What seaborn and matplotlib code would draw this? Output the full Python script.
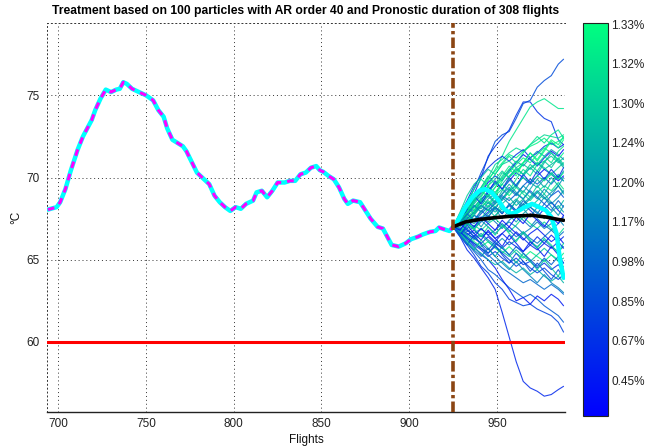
import numpy as np
import pandas as pd
import matplotlib
matplotlib.use("Agg")
import matplotlib.pyplot as plt
import seaborn as sns

# ---------------- data ----------------
hist_flights = [694, 699, 701, 704, 707, 711, 714, 716, 719, 721, 724, 727, 730, 733, 735, 737, 739,
                742, 746, 750, 754, 757, 760, 762, 765, 768, 771, 773, 776, 779, 783, 786, 789, 792,
                795, 798, 801, 804, 807, 811, 813, 816, 819, 822, 825, 829, 832, 835, 838, 841, 844,
                847, 849, 851, 854, 857, 860, 863, 865, 868, 872, 875, 878, 882, 885, 888, 890, 894,
                898, 901, 905, 908, 912, 915, 917, 920, 923, 925]
hist_temps = [68.05, 68.2, 68.5, 69.3, 70.4, 71.7, 72.5, 72.9, 73.5, 74.1, 74.8, 75.35, 75.2, 75.35,
              75.4, 75.8, 75.7, 75.4, 75.2, 75.0, 74.7, 74.1, 73.7, 73.0, 72.3, 72.1, 71.9, 71.6,
              70.95, 70.3, 69.9, 69.6, 68.9, 68.5, 68.2, 67.97, 68.2, 68.1, 68.4, 68.6, 69.1, 69.2,
              68.8, 69.2, 69.7, 69.7, 69.8, 69.8, 70.2, 70.3, 70.6, 70.7, 70.45, 70.35, 70.1, 69.9,
              69.4, 68.7, 68.4, 68.6, 68.5, 68.0, 67.5, 67.0, 66.9, 66.3, 65.9, 65.8, 66.0, 66.25,
              66.4, 66.55, 66.7, 66.75, 66.96, 66.85, 66.75, 67.0]

true_flights = [925, 926, 929, 932, 936, 940, 943, 947, 951, 954, 958, 961, 966, 970, 974, 978, 981,
                984, 986, 988]
true_temps = [67.0, 67.1, 67.6, 68.2, 68.8, 69.2, 69.3, 69.1, 68.6, 68.1, 67.8, 67.9, 68.2, 68.4,
              68.2, 68.0, 67.6, 66.6, 65.0, 63.9]

mean_flights = [925, 932, 940, 948, 958, 970, 978, 985, 988]
mean_temps = [67.0, 67.3, 67.45, 67.55, 67.65, 67.7, 67.6, 67.45, 67.4]

threshold = 60.0
forecast_start = 925

particle_flights = [925, 929, 933, 937, 941, 945, 949, 953, 957, 961, 965, 969, 973, 977, 981, 985, 988]
particle_paths = [
    [67.0, 67.6, 68.4, 69.3, 70.3, 71.2, 72.2, 72.6, 72.8, 73.6, 74.5, 74.7, 75.5, 75.9, 76.2, 76.9, 77.2],
    [67.0, 67.5, 68.2, 69.0, 70.0, 71.3, 71.9, 72.4, 72.9, 73.8, 74.6, 74.6, 74.0, 73.6, 73.4, 72.3, 72.0],
    [67.0, 67.4, 67.9, 68.5, 69.2, 69.8, 70.5, 71.3, 72.2, 72.9, 73.6, 74.3, 74.6, 74.8, 74.5, 74.2, 74.2],
    [67.0, 66.4, 65.6, 65.1, 64.5, 63.9, 63.2, 61.8, 60.3, 58.8, 57.6, 57.2, 57.0, 56.7, 56.8, 57.1, 57.3],
    [67.0, 66.5, 65.9, 65.3, 64.6, 64.2, 63.6, 63.2, 62.6, 62.4, 62.2, 62.3, 62.0, 61.8, 61.6, 61.2, 60.6],
    [67.0, 66.6, 66.0, 65.5, 65.0, 64.4, 64.1, 63.7, 63.3, 63.0, 62.7, 62.9, 62.6, 62.2, 61.9, 61.6, 61.2],
    [67.0, 66.7, 66.2, 65.8, 65.3, 65.0, 64.5, 63.8, 63.2, 62.5, 62.7, 62.3, 62.8, 62.5, 62.9, 62.6, 62.2],
    [67.0, 67.5, 68.0, 68.7, 69.4, 70.0, 70.8, 71.1, 71.5, 71.8, 71.6, 72.0, 72.3, 72.6, 72.5, 72.4, 72.6],
    [67.0, 67.6, 68.3, 68.8, 69.3, 69.9, 70.4, 70.9, 71.4, 71.2, 71.6, 71.9, 72.1, 72.4, 72.0, 72.2, 72.4],
    [67.0, 67.8, 68.6, 69.5, 70.1, 70.6, 71.0, 71.3, 71.0, 71.4, 71.7, 71.2, 71.5, 71.9, 72.1, 71.8, 72.0],
    [67.0, 67.9, 68.9, 69.6, 70.0, 70.5, 70.2, 70.8, 71.0, 70.6, 70.9, 71.2, 70.8, 71.0, 71.3, 70.9, 71.2],
    [67.0, 67.3, 67.8, 68.4, 68.9, 69.4, 69.1, 69.6, 70.1, 70.5, 70.2, 70.6, 70.9, 70.5, 70.8, 71.1, 70.7],
    [67.0, 67.4, 68.1, 68.0, 68.6, 69.2, 69.7, 69.3, 69.8, 70.3, 70.0, 69.6, 70.1, 70.5, 70.2, 69.8, 70.1],
    [67.0, 67.2, 67.7, 68.3, 68.1, 68.7, 69.0, 68.6, 69.2, 69.5, 69.1, 69.7, 69.4, 69.9, 70.3, 69.9, 70.4],
    [67.0, 67.3, 67.9, 68.2, 68.7, 68.4, 68.9, 69.3, 68.9, 69.4, 69.0, 68.6, 69.1, 69.5, 69.2, 69.7, 69.3],
    [67.0, 67.1, 67.5, 67.9, 68.3, 68.0, 68.5, 68.9, 68.6, 69.0, 68.7, 69.2, 68.8, 68.4, 68.9, 69.2, 68.8],
    [67.0, 67.2, 67.6, 67.4, 67.9, 68.3, 67.9, 68.4, 68.8, 68.3, 68.7, 68.2, 68.6, 69.0, 68.5, 68.1, 68.6],
    [67.0, 67.1, 67.3, 67.7, 67.5, 67.9, 68.2, 67.8, 68.3, 67.9, 68.4, 68.0, 67.6, 68.1, 68.5, 68.0, 67.7],
    [67.0, 67.0, 67.4, 67.2, 67.6, 67.3, 67.7, 68.1, 67.7, 67.3, 67.8, 68.2, 67.9, 67.5, 67.9, 68.3, 67.9],
    [67.0, 66.9, 67.2, 66.9, 67.3, 67.7, 67.3, 66.9, 67.4, 67.8, 67.4, 67.0, 67.5, 67.1, 66.8, 67.2, 67.6],
    [67.0, 67.2, 66.9, 67.1, 66.8, 67.2, 67.5, 67.1, 66.7, 67.1, 67.6, 67.2, 66.9, 67.3, 66.9, 66.5, 66.9],
    [67.0, 66.8, 66.5, 66.8, 66.4, 66.7, 66.3, 66.6, 67.0, 66.6, 66.2, 66.6, 66.9, 66.5, 66.1, 66.4, 66.0],
    [67.0, 66.9, 66.6, 66.3, 66.6, 66.2, 65.9, 66.3, 65.9, 66.2, 66.6, 66.1, 65.8, 66.2, 65.8, 65.5, 65.8],
    [67.0, 66.8, 66.4, 66.1, 65.8, 66.1, 65.7, 65.4, 65.8, 65.4, 65.1, 65.5, 65.2, 64.9, 65.3, 65.0, 65.4],
    [67.0, 66.7, 66.3, 65.9, 65.6, 65.2, 65.5, 65.1, 64.8, 65.1, 64.7, 64.9, 64.5, 64.8, 64.4, 64.7, 64.3],
    [67.0, 66.6, 66.2, 65.7, 65.4, 65.0, 64.7, 64.9, 64.5, 64.2, 64.5, 64.1, 64.4, 64.0, 63.7, 64.0, 63.6],
    [67.0, 66.7, 66.4, 66.0, 65.7, 65.3, 64.9, 64.5, 64.2, 63.9, 63.6, 63.8, 63.5, 63.2, 63.5, 63.2, 62.9],
    [67.0, 67.5, 68.0, 68.6, 69.1, 69.7, 70.1, 69.8, 70.4, 70.9, 71.4, 71.1, 70.7, 71.2, 71.6, 71.3, 71.7],
    [67.0, 67.4, 67.9, 68.5, 69.0, 69.5, 69.9, 70.4, 70.0, 70.4, 70.8, 70.5, 70.9, 70.6, 70.2, 70.6, 70.9],
    [67.0, 67.3, 67.7, 68.2, 68.7, 69.1, 69.6, 70.0, 70.5, 71.0, 70.7, 71.2, 71.6, 71.3, 71.7, 71.4, 71.1],
    [67.0, 67.2, 67.6, 67.3, 67.8, 68.2, 68.6, 69.0, 69.4, 69.0, 69.5, 69.9, 69.6, 70.0, 69.6, 70.1, 69.8],
    [67.0, 67.1, 67.4, 67.8, 68.2, 68.6, 68.2, 68.7, 69.1, 69.6, 70.0, 69.7, 70.1, 69.8, 70.2, 69.9, 70.3],
    [67.0, 66.9, 66.7, 67.0, 67.4, 67.0, 66.6, 67.0, 67.3, 67.0, 66.6, 66.9, 67.3, 66.9, 67.2, 67.5, 67.1],
    [67.0, 66.8, 66.6, 66.3, 66.0, 66.4, 66.0, 65.7, 66.1, 65.8, 65.5, 65.9, 65.6, 66.0, 65.7, 66.1, 66.4],
    [67.0, 66.9, 66.5, 66.2, 66.5, 66.1, 65.8, 65.5, 65.2, 65.6, 65.2, 64.9, 65.3, 65.7, 65.3, 64.9, 65.1],
    [67.0, 66.7, 66.3, 66.0, 65.7, 65.4, 65.8, 65.4, 65.0, 64.6, 64.9, 64.5, 64.2, 64.5, 64.1, 63.8, 64.1],
    [67.0, 67.1, 67.3, 67.7, 67.4, 67.8, 68.2, 67.9, 68.3, 68.7, 68.3, 68.7, 69.1, 68.7, 69.1, 69.5, 69.1],
    [67.0, 67.3, 67.6, 68.0, 68.5, 68.9, 69.4, 69.9, 70.3, 70.8, 71.2, 70.9, 71.4, 71.8, 71.5, 71.1, 71.5],
    [67.0, 66.9, 66.8, 66.6, 66.9, 66.5, 66.8, 67.2, 66.8, 66.4, 66.7, 66.3, 66.0, 66.4, 66.8, 66.4, 66.7],
    [67.0, 67.2, 67.5, 67.9, 68.3, 68.0, 68.4, 68.8, 68.4, 68.0, 68.4, 68.8, 69.2, 68.8, 68.4, 68.8, 69.2],
    [67.0, 67.6, 67.2, 67.9, 68.6, 68.2, 68.9, 69.6, 69.2, 69.9, 70.5, 70.1, 70.8, 71.3, 70.9, 71.6, 71.9],
    [67.0, 66.6, 67.2, 66.8, 67.5, 68.1, 67.6, 68.3, 67.9, 68.6, 69.2, 68.8, 69.5, 69.0, 69.7, 70.2, 69.8],
    [67.0, 67.5, 68.2, 67.8, 68.5, 69.0, 68.5, 69.2, 69.9, 69.4, 70.1, 70.6, 70.2, 70.9, 71.5, 71.0, 70.6],
    [67.0, 66.5, 67.1, 66.6, 66.2, 66.8, 66.3, 65.8, 66.5, 66.0, 65.5, 66.1, 65.7, 65.2, 65.8, 65.3, 64.8],
    [67.0, 67.7, 68.4, 68.0, 68.8, 69.5, 69.0, 69.8, 70.5, 70.1, 70.9, 71.5, 71.0, 71.6, 72.2, 71.8, 72.3],
    [67.0, 66.4, 65.9, 66.5, 65.9, 65.4, 65.9, 65.3, 64.8, 65.4, 64.9, 64.3, 64.8, 64.3, 63.8, 64.4, 63.9],
    [67.0, 67.4, 66.9, 67.5, 67.0, 67.6, 68.1, 67.5, 68.0, 68.6, 68.1, 67.6, 68.2, 68.8, 68.2, 67.7, 68.3],
    [67.0, 66.7, 67.3, 66.9, 66.4, 67.0, 66.5, 67.1, 66.6, 66.1, 66.7, 66.2, 65.7, 66.3, 65.9, 65.4, 66.0],
    [67.0, 67.6, 68.3, 68.9, 68.4, 69.1, 69.8, 69.3, 70.0, 69.5, 70.2, 69.7, 70.4, 69.9, 70.5, 70.0, 70.6],
    [67.0, 66.6, 66.1, 65.6, 66.2, 65.7, 65.2, 65.8, 65.3, 64.8, 65.4, 64.9, 64.4, 65.0, 64.5, 64.0, 64.6],
    [67.0, 67.3, 67.9, 68.6, 69.2, 68.8, 69.4, 70.1, 70.7, 70.3, 70.9, 71.5, 71.1, 71.7, 72.3, 72.0, 72.5],
    [67.0, 67.2, 67.8, 67.4, 68.0, 67.6, 68.2, 67.8, 68.4, 68.0, 68.6, 68.2, 67.8, 68.4, 68.0, 68.6, 68.2],
    [67.0, 66.8, 67.4, 67.0, 67.6, 67.2, 66.8, 67.4, 67.0, 67.6, 67.2, 67.8, 67.4, 67.0, 67.6, 67.2, 67.7],
    [67.0, 67.5, 67.1, 67.7, 68.3, 68.9, 68.4, 69.0, 69.6, 69.1, 68.7, 69.3, 69.9, 69.4, 70.0, 69.5, 69.0],
    [67.0, 66.5, 66.0, 65.6, 65.2, 65.7, 65.2, 64.8, 64.4, 64.9, 64.4, 64.0, 63.6, 64.1, 63.6, 63.3, 63.0],
    [67.0, 67.8, 68.5, 69.3, 69.9, 69.5, 70.2, 70.8, 71.3, 70.9, 71.5, 72.0, 72.5, 72.1, 72.6, 72.9, 72.4],
    [67.0, 67.2, 66.8, 66.4, 66.9, 66.5, 66.1, 66.6, 66.2, 66.7, 66.3, 65.9, 66.4, 66.0, 66.5, 66.1, 65.7],
    [67.0, 67.3, 67.8, 68.3, 67.9, 68.5, 68.1, 68.7, 69.3, 68.9, 69.5, 69.1, 68.7, 69.3, 68.9, 69.5, 70.0],
    [67.0, 66.6, 66.9, 66.4, 66.0, 65.6, 66.1, 65.7, 65.3, 65.8, 65.4, 65.0, 64.6, 65.1, 64.7, 65.2, 64.8],
    [67.0, 67.5, 68.1, 68.7, 69.4, 70.1, 69.6, 70.3, 70.0, 70.6, 70.2, 70.8, 70.4, 71.0, 70.6, 71.2, 70.8],
]
particle_weights = [0.3, 0.2, 0.9, 0.15, 0.25, 0.35, 0.1, 0.85, 0.95, 0.2,
                    0.8, 0.7, 0.05, 0.6, 0.9, 0.3, 0.75, 0.15, 0.65, 0.45,
                    0.85, 0.1, 0.55, 0.95, 0.2, 0.7, 0.4, 0.05, 0.8, 0.6,
                    0.35, 0.9, 0.5, 0.15, 0.75, 0.25, 0.65, 0.95, 0.45, 0.55,
                    0.9, 0.8, 0.7, 0.1, 0.98, 0.3, 0.6, 0.85, 0.2, 0.75,
                    0.95, 0.4, 0.05, 0.65, 0.5, 0.9, 0.15, 0.55, 0.35, 0.8]

cbar_ticks = [1, 2, 3, 4, 5, 6, 7, 8, 9, 10]
cbar_labels = ['0.45%', '0.67%', '0.85%', '0.98%', '1.17%', '1.20%', '1.24%', '1.30%', '1.32%', '1.33%']

title = "Treatment based on 100 particles with AR order 40 and Pronostic duration of 308 flights"

# ---------------- style ----------------
sns.set_style("white")
plt.rcParams['font.family'] = ['Liberation Sans', 'DejaVu Sans']
plt.rcParams['axes.unicode_minus'] = False

fig = plt.figure(figsize=(6.59, 4.48), dpi=100)
ax = fig.add_axes([0.0713, 0.0797, 0.7860, 0.8696])
cax = fig.add_axes([0.8852, 0.0721, 0.0380, 0.8772])

cmap = plt.get_cmap('winter')

rows = []
for i, path in enumerate(particle_paths):
    for f, t in zip(particle_flights, path):
        rows.append({'flight': f, 'temp': t, 'particle': i})
pdf = pd.DataFrame(rows)
palette = {i: cmap(w) for i, w in enumerate(particle_weights)}
sns.lineplot(data=pdf, x='flight', y='temp', hue='particle', palette=palette,
             estimator=None, units='particle', legend=False, lw=0.8, alpha=0.85,
             sort=False, ax=ax, zorder=2)

# threshold
ax.axhline(threshold, color='red', lw=2.2, zorder=3)

# history: cyan solid + magenta dashed
hist_df = pd.DataFrame({'flight': hist_flights, 'temp': hist_temps})
true_df = pd.DataFrame({'flight': true_flights, 'temp': true_temps})
all_true = pd.concat([hist_df, true_df.iloc[1:]], ignore_index=True)
sns.lineplot(data=all_true, x='flight', y='temp', color='#00FFFF', lw=3.2, sort=False,
             estimator=None, ax=ax, zorder=4)
ax.plot(hist_flights, hist_temps, color='#FF00FF', lw=2.2, ls=(0, (2.2, 2.0)), zorder=5)

# mean forecast
mean_df = pd.DataFrame({'flight': mean_flights, 'temp': mean_temps})
sns.lineplot(data=mean_df, x='flight', y='temp', color='black', lw=2.6, sort=False,
             estimator=None, ax=ax, zorder=6)

# forecast start
ax.axvline(forecast_start, color='#8B4513', lw=2.6, ls=(0, (2.9, 0.9, 0.9, 0.9)), zorder=7)

ax.set_xlim(693.5, 988.8)
ax.set_ylim(55.72, 79.42)
ax.set_xticks([700, 750, 800, 850, 900, 950])
ax.set_yticks([60, 65, 70, 75])
ax.grid(True, color='#333333', ls=(0, (1, 3)), lw=0.7)
ax.set_axisbelow(True)

ax.spines['right'].set_visible(False)
for s in ['top', 'left']:
    ax.spines[s].set_linestyle((0, (1, 3)))
    ax.spines[s].set_color('#333333')
    ax.spines[s].set_linewidth(0.7)
ax.spines['bottom'].set_color('#222222')
ax.spines['bottom'].set_linewidth(1.0)

ax.tick_params(axis='x', direction='in', length=4, width=0.8, colors='#222222', labelsize=8.5, pad=4)
ax.tick_params(axis='y', direction='inout', length=5, width=0.8, colors='#555555',
               labelcolor='#222222', labelsize=8.5, pad=3)

ax.set_xlabel('Flights', fontsize=8.5, color='#111111', labelpad=3)
ax.set_ylabel('°C', fontsize=8.5, color='#111111', labelpad=2.5)
ax.set_title(title, fontsize=8.7, fontweight='bold', color='black', pad=6)

# colorbar
norm = matplotlib.colors.Normalize(vmin=0.1, vmax=10.04)
sm = matplotlib.cm.ScalarMappable(norm=norm, cmap=cmap)
cb = fig.colorbar(sm, cax=cax)
cb.set_ticks(cbar_ticks)
cb.set_ticklabels(cbar_labels)
cb.outline.set_linewidth(0.8)
cb.outline.set_edgecolor('#222222')
cax.tick_params(axis='y', direction='in', length=3, width=0.8, left=True, right=True,
                labelsize=8.5, colors='#222222', pad=2)

fig.savefig('out.png', dpi=100)
